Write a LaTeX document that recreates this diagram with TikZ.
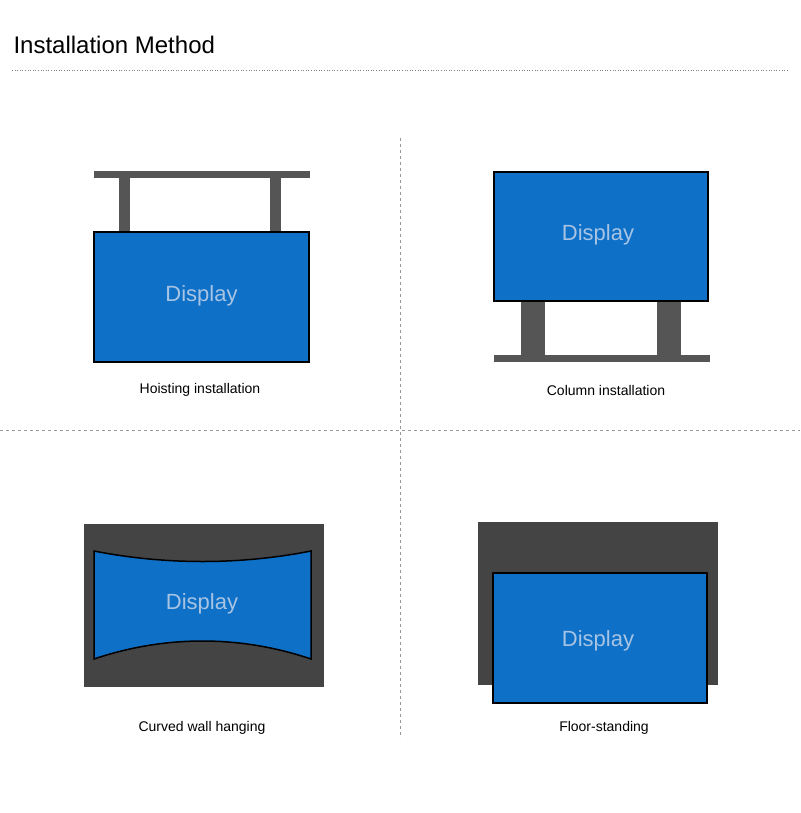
\documentclass[tikz,border=0pt]{standalone}
\usepackage{fontspec}
\setmainfont{Liberation Sans}
\definecolor{disp}{HTML}{0E70C6}
\definecolor{dtext}{HTML}{A8C4E4}
\definecolor{post}{HTML}{555555}
\definecolor{dark}{HTML}{444444}
\begin{document}
\begin{tikzpicture}[x=1pt,y=-1pt,
  screen/.style={fill=disp,draw=black,line width=1.5pt},
  dlabel/.style={text=dtext,font=\fontsize{22}{26}\selectfont},
  caption/.style={font=\fontsize{14}{17}\selectfont},
  mount/.style={fill=post,draw=none},
  backing/.style={fill=dark,draw=none},
  sep/.style={draw=gray!80,dashed,line width=0.6pt}]
\useasboundingbox (0,0) rectangle (800,813);
\node[anchor=west,font=\fontsize{24}{28}\selectfont] (title) at (10,45) {Installation Method};
\draw[gray,dotted,line width=0.6pt] (12,70) -- (788,70);
\draw[sep] (400,138) -- (400,738);
\draw[sep] (0,430) -- (800,430);
% panel 1
\fill[mount] (94,171) rectangle (310,178);
\fill[mount] (119,178) rectangle (130,232);
\fill[mount] (270,178) rectangle (281,232);
\draw[screen] (94,232) rectangle (309,362);
\node[dlabel] (d1) at (201.5,296) {Display};
\node[caption] (c1) at (200,390) {Hoisting installation};
% panel 2
\fill[mount] (521,301) rectangle (545,355);
\fill[mount] (657,301) rectangle (681,355);
\fill[mount] (494,355) rectangle (710,362);
\draw[screen] (494,172) rectangle (708,301);
\node[dlabel] (d2) at (598,235) {Display};
\node[caption] (c2) at (606,390) {Column installation};
% panel 3
\fill[backing] (84,524) rectangle (324,687);
\draw[screen] (94,551) .. controls (165,565) and (240,565) .. (311,551) -- (311,659)
  .. controls (240,635) and (165,635) .. (94,659) -- cycle;
\node[dlabel] (d3) at (202,604) {Display};
\node[caption] (c3) at (202,728) {Curved wall hanging};
% panel 4
\fill[backing] (478,522) rectangle (718,685);
\draw[screen] (493,573) rectangle (707,703);
\node[dlabel] (d4) at (598,641) {Display};
\node[caption] (c4) at (604,728) {Floor-standing};
\end{tikzpicture}
\end{document}
